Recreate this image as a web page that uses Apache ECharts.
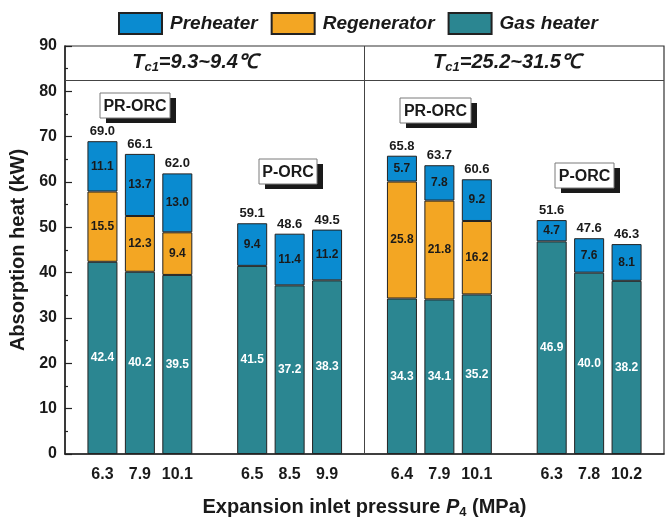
<!DOCTYPE html>
<html>
<head>
<meta charset="utf-8">
<script src="https://cdn.jsdelivr.net/npm/echarts@6/dist/echarts.min.js"></script>
<style>
  html, body { margin: 0; padding: 0; background: #fff; }
  #chart { width: 670px; height: 524px; }
</style>
</head>
<body>
<div id="chart"></div>
<script>
// Expansion inlet pressure (MPa); blank slots separate the four groups
const categories = ['', '6.3', '7.9', '10.1', '', '6.5', '8.5', '9.9', '', '6.4', '7.9', '10.1', '', '6.3', '7.8', '10.2', ''];

// Absorption heat of each heat exchanger (kW)
const gasHeater   = ['-', 42.4, 40.2, 39.5, '-', 41.5, 37.2, 38.3, '-', 34.3, 34.1, 35.2, '-', 46.9, 40.0, 38.2, '-'];
const regenerator = ['-', 15.5, 12.3, 9.4, '-', '-', '-', '-', '-', 25.8, 21.8, 16.2, '-', '-', '-', '-', '-'];
const preheater   = ['-', 11.1, 13.7, 13.0, '-', 9.4, 11.4, 11.2, '-', 5.7, 7.8, 9.2, '-', 4.7, 7.6, 8.1, '-'];

// Total labels printed above each stack
const totals = ['-', '69.0', '66.1', '62.0', '-', '59.1', '48.6', '49.5', '-', '65.8', '63.7', '60.6', '-', '51.6', '47.6', '46.3', '-'];

const FONT = '"Liberation Sans", Arial, Helvetica, sans-serif';
const COLORS = { pre: '#0a8bd0', reg: '#f3a623', gas: '#2b8691' };

const chart = echarts.init(document.getElementById('chart'), null, { renderer: 'canvas' });

function segLabel(color) {
  return {
    show: true,
    position: 'inside',
    fontFamily: FONT,
    fontWeight: 'bold',
    fontSize: 12,
    color: color,
    formatter: p => Number(p.value).toFixed(1)
  };
}

const barBase = {
  type: 'bar',
  stack: 'heat',
  barWidth: 30,
  animation: false
};

function tagBox(x, y, w, h, text) {
  return {
    type: 'group',
    children: [
      { type: 'rect', shape: { x: x + 6, y: y + 5, width: w, height: h }, style: { fill: '#1a1a1a' } },
      { type: 'rect', shape: { x: x, y: y, width: w, height: h }, style: { fill: '#fff', stroke: '#7a7a7a', lineWidth: 1 } },
      {
        type: 'text', x: x + w / 2, y: y + h / 2 + 1,
        style: { text: text, fill: '#1a1a1a', font: 'bold 16px ' + FONT, textAlign: 'center', textVerticalAlign: 'middle' }
      }
    ]
  };
}

function header(cx, cy, range) {
  return {
    type: 'text', x: cx, y: cy,
    style: {
      text: '{t|T}{s|c1}{t|=' + range + '℃}',
      textAlign: 'center',
      textVerticalAlign: 'middle',
      fill: '#1a1a1a',
      rich: {
        t: { font: 'italic bold 20px ' + FONT, fill: '#1a1a1a', lineHeight: 24, verticalAlign: 'middle' },
        s: { font: 'italic bold 13px ' + FONT, fill: '#1a1a1a', lineHeight: 13, verticalAlign: 'bottom' }
      }
    }
  };
}

chart.setOption({
  backgroundColor: '#fff',
  animation: false,
  textStyle: { fontFamily: FONT },
  legend: {
    data: ['Preheater', 'Regenerator', 'Gas heater'],
    left: 113,
    top: 7,
    itemWidth: 43,
    itemHeight: 21,
    itemGap: 13,
    icon: 'rect',
    selectedMode: false,
    textStyle: {
      fontFamily: FONT,
      fontStyle: 'italic',
      fontWeight: 'bold',
      fontSize: 19,
      color: '#1a1a1a',
      padding: [0, 0, 0, 3]
    }
  },
  grid: {
    left: 65,
    right: 6,
    top: 46,
    bottom: 58,
    show: true,
    borderColor: '#333',
    borderWidth: 1.2,
    backgroundColor: 'transparent'
  },
  xAxis: {
    type: 'category',
    data: categories,
    boundaryGap: false,
    axisLine: { lineStyle: { color: '#222', width: 1.5 } },
    axisTick: { show: false },
    axisLabel: {
      interval: 0,
      margin: 13,
      fontFamily: FONT,
      fontWeight: 'bold',
      fontSize: 16,
      color: '#1a1a1a'
    },
    name: '{n|Expansion inlet pressure }{i|P}{s|4}{n| (MPa)}',
    nameLocation: 'middle',
    nameGap: 41,
    nameTextStyle: {
      rich: {
        n: { fontFamily: FONT, fontWeight: 'bold', fontSize: 20, color: '#1a1a1a', lineHeight: 24, verticalAlign: 'middle' },
        i: { fontFamily: FONT, fontWeight: 'bold', fontStyle: 'italic', fontSize: 20, color: '#1a1a1a', lineHeight: 24, verticalAlign: 'middle' },
        s: { fontFamily: FONT, fontWeight: 'bold', fontSize: 13, color: '#1a1a1a', lineHeight: 13, verticalAlign: 'bottom' }
      }
    },
    splitLine: { show: false }
  },
  yAxis: {
    type: 'value',
    min: 0,
    max: 90,
    interval: 10,
    axisLine: { show: true, lineStyle: { color: '#222', width: 1.5 } },
    axisTick: { show: true, inside: true, length: 7, lineStyle: { color: '#222', width: 1.2 } },
    minorTick: { show: true, splitNumber: 2, length: 3, lineStyle: { color: '#222', width: 1.2 } },
    axisLabel: {
      margin: 8,
      fontFamily: FONT,
      fontWeight: 'bold',
      fontSize: 16,
      color: '#1a1a1a'
    },
    splitLine: { show: false },
    name: 'Absorption heat (kW)',
    nameLocation: 'middle',
    nameGap: 25,
    nameTextStyle: { fontFamily: FONT, fontWeight: 'bold', fontSize: 20, color: '#1a1a1a' }
  },
  series: [
    Object.assign({}, barBase, {
      name: 'Gas heater',
      data: gasHeater,
      itemStyle: { color: COLORS.gas, borderColor: '#222', borderWidth: 1 },
      label: segLabel('#ffffff'),
      markLine: {
        symbol: 'none',
        silent: true,
        animation: false,
        label: { show: false },
        lineStyle: { color: '#444', width: 1, type: 'solid' },
        data: [{ xAxis: 8 }, { yAxis: 82.5 }]
      }
    }),
    Object.assign({}, barBase, {
      name: 'Regenerator',
      data: regenerator,
      itemStyle: { color: COLORS.reg, borderColor: '#222', borderWidth: 1 },
      label: segLabel('#1a1a1a')
    }),
    Object.assign({}, barBase, {
      name: 'Preheater',
      data: preheater,
      itemStyle: { color: COLORS.pre, borderColor: '#222', borderWidth: 1 },
      label: segLabel('#1a1a1a')
    }),
    Object.assign({}, barBase, {
      name: 'Total',
      data: totals.map(t => (t === '-' ? '-' : 0)),
      itemStyle: { color: 'transparent', borderWidth: 0 },
      label: {
        show: true,
        position: 'top',
        distance: 3,
        fontFamily: FONT,
        fontWeight: 'bold',
        fontSize: 13,
        color: '#1a1a1a',
        formatter: p => totals[p.dataIndex]
      }
    })
  ],
  graphic: [
    header(195, 62, '9.3~9.4'),
    header(507, 62, '25.2~31.5'),
    tagBox(100, 93, 70, 25, 'PR-ORC'),
    tagBox(259, 159, 58, 25, 'P-ORC'),
    tagBox(400, 98, 71, 25, 'PR-ORC'),
    tagBox(555, 163, 59, 25, 'P-ORC')
  ]
});
</script>
</body>
</html>
